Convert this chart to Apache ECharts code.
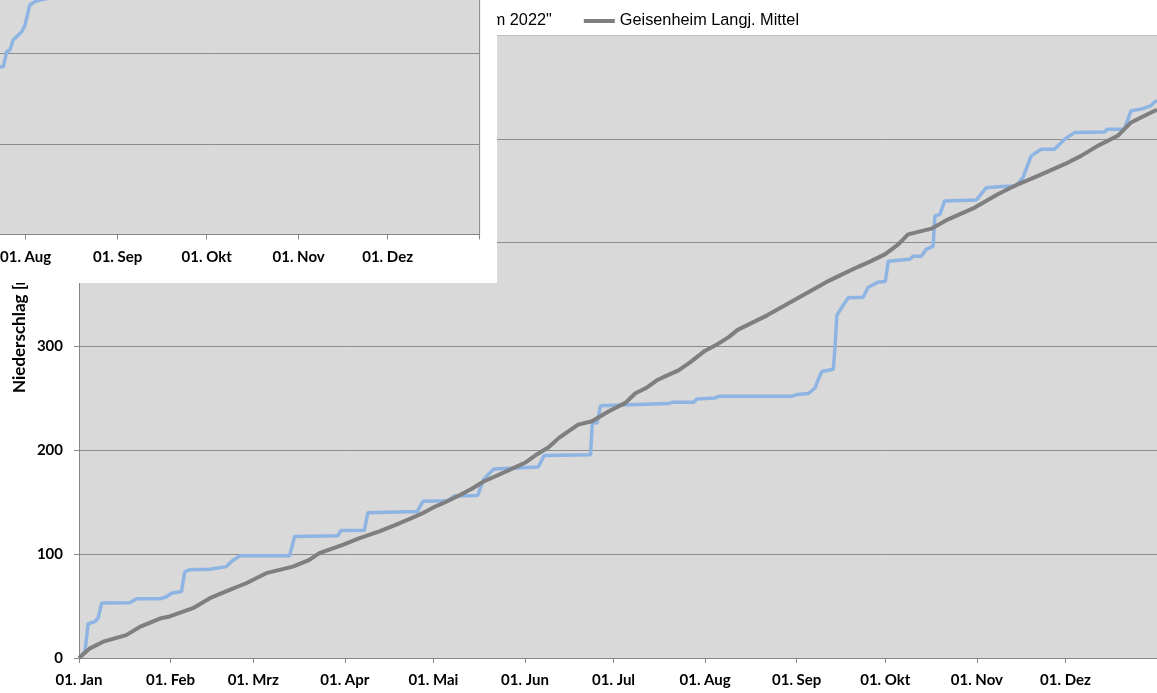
<!DOCTYPE html>
<html><head><meta charset="utf-8">
<script src="https://cdn.jsdelivr.net/npm/echarts@6/dist/echarts.min.js"></script>
<style>
html,body{margin:0;padding:0;background:#fff;overflow:hidden;}
#main{position:absolute;left:0;top:0;width:1157px;height:693px;}
#insetBox{position:absolute;left:0;top:0;width:497px;height:283px;background:#fff;overflow:hidden;z-index:5;}
#inset{position:absolute;left:-700px;top:-450px;width:1200px;height:734px;}
</style></head><body>
<div id="main"></div>
<div id="insetBox"><div id="inset"></div></div>
<script>
// ---- data ----
const monthStarts = [0,31,59,90,120,151,181,212,243,273,304,334];
const monthLabels = ['01. Jan','01. Feb','01. Mrz','01. Apr','01. Mai','01. Jun','01. Jul','01. Aug','01. Sep','01. Okt','01. Nov','01. Dez'];
const yearEnd = 365;
const seriesNames = ['Niederschlag "Geisenheim 2022"', 'Geisenheim Langj. Mittel'];
const yAxisTitle = 'Niederschlag [mm]';
const yMax = 600, yStep = 100;
const insetYMax = 700;

// cumulative precipitation 2022 [day of year, mm]
const rain2022 = [[0,0],[0.5,1.5],[2,6],[3.1,33],[5.4,35],[6.5,38.5],[7.7,53],[17.2,53.3],[19.5,57],[27.4,57],[29.6,59],[31.3,62.4],[34.7,64],[35.8,83],[37.5,85],[44.3,85.5],[49.9,88],[51.6,93],[54.4,98.4],[71.3,98.4],[73,117],[87.6,117.7],[88.7,122.8],[96.6,123],[97.8,140],[114.5,141],[116.5,151],[125,151.5],[127,156],[135,156.5],[137,172],[139,178],[140.5,182],[155.5,184],[157.5,195],[173.2,195.8],[173.8,226.4],[175.4,226.4],[176.6,243],[186.1,244],[199.7,245],[200.8,246.3],[208.1,246.3],[209.2,249.5],[215.4,250.5],[216.6,252],[241.3,252],[243,253.7],[247,254.7],[249.2,260],[250.3,268],[251.5,276],[255.4,278],[256,300],[256.6,330],[258.8,340],[260.5,347],[265.5,347.5],[267.2,357],[270.6,362],[273,362.5],[274,382],[281.3,384],[282.4,387],[285.2,387],[286.9,393.6],[289.2,396.7],[289.8,425.7],[291.5,427.3],[293.1,440.2],[303.8,441],[307.2,453],[312.3,454],[317.3,454.6],[319.6,462.7],[322.4,483.6],[325.8,490],[330.3,490],[333.7,499.7],[337.1,506],[347.2,506.7],[348.3,509.3],[353.9,509.3],[356.2,527],[359.6,528.6],[362.9,531.8],[364.2,535.6],[365,537]];

// long-term mean cumulative precipitation [day of year, mm]
const meanLongTerm = [[0,0],[3.7,9.3],[8.2,15.7],[16,22],[20.6,30],[27.4,38],[30.7,40],[38.6,48],[44.3,57.6],[51,65.6],[56.6,72],[63.4,81.7],[72.4,88],[78,94.5],[81.4,101],[89.3,109],[95,115.5],[101.7,122],[107,128],[112,134],[116,139],[120,145],[124,150],[129,157],[133,163],[137,170],[141,175],[145.6,181],[151,188],[155,196],[159,203],[162.5,212],[169,224.8],[173.7,228],[179.4,237.6],[185,245.7],[188.4,255],[192,260],[196,268],[199,272],[203,277],[207,285],[212,296],[216,302],[220,309],[223,316],[228,323],[233,330],[238,338],[243,346],[248,354],[253.7,363],[258,369],[264,377],[268,382],[273,389],[277.4,398.4],[280.7,408],[288.6,413.5],[294.3,422.5],[303.3,433.8],[311.1,446.6],[317.9,456.2],[324.7,464.3],[333.7,475.6],[339.3,483.6],[344.9,493.2],[351.7,502.9],[356.2,515.8],[364.2,527],[365,528]];

// overlapping inset chart: visible part of its precipitation line
const insetRain = [[196,183],[203.3,185],[204.5,185],[205.6,201.5],[206.7,203.3],[207.8,214.4],[210.7,223.6],[211.8,231],[213.4,253],[215.1,256.7],[216.8,258.5],[222,262],[228,270]];

// ---- shared styles ----
const tickDays = monthStarts.concat([yearEnd]);
const axisGray = '#868686';
const gridGray = '#8c8c8c';
const labelFont = {fontFamily:'Lato', fontWeight:'bold', fontSize:15, color:'#000'};
const fmtDay = v => { const i = monthStarts.indexOf(v); return i >= 0 ? monthLabels[i] : ''; };

function xAxisDef() {
  return {
    type:'value', min:0, max:yearEnd,
    axisLine:{show:true, lineStyle:{color:axisGray, width:1}},
    axisTick:{show:true, length:5, customValues:tickDays, lineStyle:{color:axisGray}},
    axisLabel:Object.assign({show:true, margin:15, customValues:monthStarts, formatter:fmtDay}, labelFont),
    splitLine:{show:false}
  };
}

const main = echarts.init(document.getElementById('main'));
const splitColors = [];
for (let v = 0; v <= yMax; v += yStep) splitColors.push(v === yMax ? '#bcbcbc' : gridGray);
main.setOption({
  animation:false,
  backgroundColor:'#fff',
  legend:{
    right:353, top:8, itemGap:32, itemWidth:31, itemHeight:4, icon:'rect',
    textStyle:{fontFamily:'Liberation Sans', fontSize:16.3, color:'#000'},
    data:seriesNames
  },
  grid:{left:79, right:-2, top:35, bottom:35, show:true, backgroundColor:'#d9d9d9', borderWidth:0},
  xAxis:xAxisDef(),
  yAxis:{
    type:'value', min:0, max:yMax, interval:yStep,
    axisLine:{show:true, lineStyle:{color:axisGray}},
    axisTick:{show:true, length:5, lineStyle:{color:axisGray}},
    axisLabel:Object.assign({margin:16}, labelFont),
    splitLine:{show:true, lineStyle:{color:splitColors, width:1}}
  },
  graphic:[{
    type:'text', x:20, y:393, rotation:Math.PI/2,
    style:{text:yAxisTitle, font:'bold 17px Lato', fill:'#000', textAlign:'left', textVerticalAlign:'middle'}
  }],
  series:[
    {name:seriesNames[0], type:'line', data:rain2022, showSymbol:false, symbol:'none',
     lineStyle:{color:'#8eb4e3', width:3.5}, itemStyle:{color:'#8eb4e3'}},
    {name:seriesNames[1], type:'line', data:meanLongTerm, showSymbol:false, symbol:'none',
     lineStyle:{color:'#7f7f7f', width:4}, itemStyle:{color:'#7f7f7f'}}
  ]
});

const inset = echarts.init(document.getElementById('inset'));
inset.setOption({
  animation:false,
  backgroundColor:'#fff',
  grid:{left:96.6, right:20.4, top:49.5, bottom:49.5, show:true, backgroundColor:'#d9d9d9', borderColor:axisGray, borderWidth:1},
  xAxis:xAxisDef(),
  yAxis:{
    type:'value', min:0, max:insetYMax, interval:yStep,
    axisLine:{show:false}, axisTick:{show:false}, axisLabel:{show:false},
    splitLine:{show:true, lineStyle:{color:gridGray, width:1}}
  },
  series:[
    {name:seriesNames[0], type:'line', data:insetRain, showSymbol:false, symbol:'none',
     lineStyle:{color:'#8eb4e3', width:3.5}}
  ]
});
</script>
</body></html>
